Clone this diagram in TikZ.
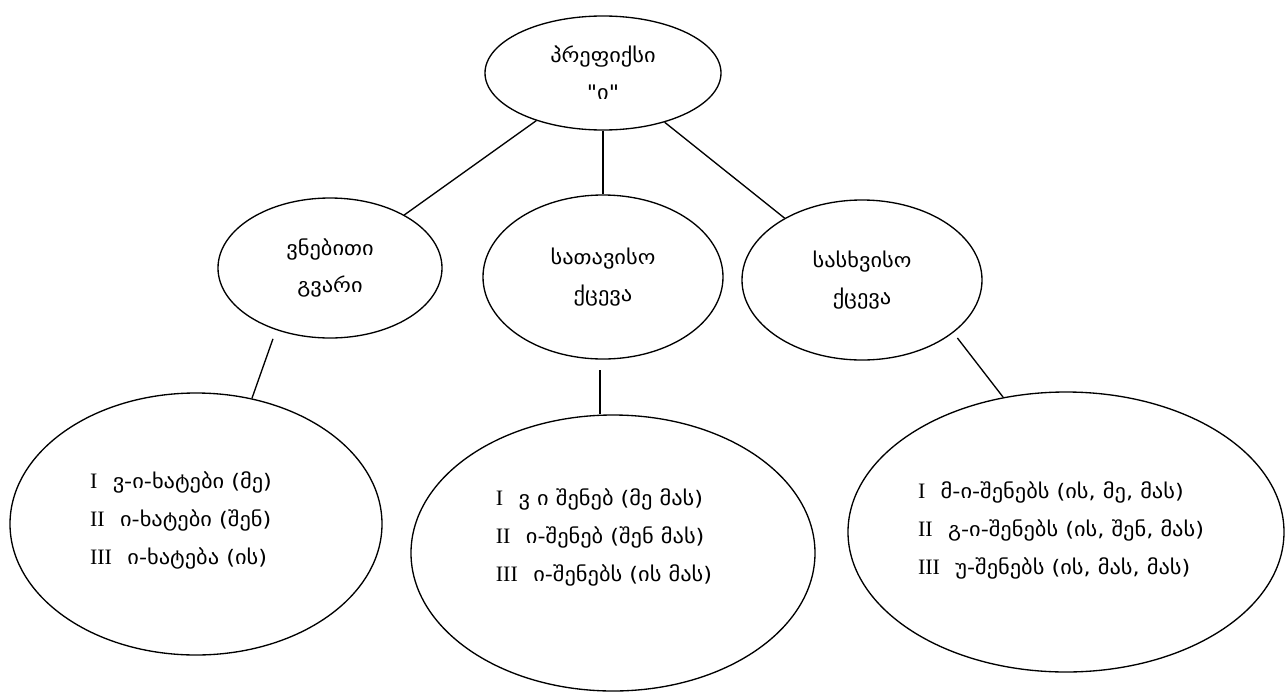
\documentclass[tikz,border=0pt]{standalone}
\usepackage{fontspec}
\setmainfont{Liberation Serif}
\newfontfamily\geo[FakeStretch=1.12]{DejaVu Sans}
\usetikzlibrary{shapes.geometric}
\newcommand\ka[1]{{\geo\fontsize{15}{28.5}\selectfont #1}}
\tikzset{oval/.style={draw, ellipse, inner sep=0pt}}
\tikzstyle{txt}=[align=center, font=\geo\fontsize{15}{28}\selectfont]
\tikzstyle{list}=[align=left, font=\fontsize{16.5}{28.5}\selectfont]

\begin{document}
\begin{tikzpicture}[x=0.75pt, y=-0.75pt, line width=1pt]
\useasboundingbox (0,0) rectangle (1286,693);
\node[oval, txt, minimum width=177pt, minimum height=85.5pt] (pref) at (603,73) {პრეფიქსი\\"ი"};
\node[oval, txt, minimum width=168pt, minimum height=105pt] (vneb) at (330,268) {ვნებითი\\გვარი};
\node[oval, txt, minimum width=180pt, minimum height=123pt] (satav) at (603,277) {სათავისო\\ქცევა};
\node[oval, txt, minimum width=180pt, minimum height=120pt] (saskh) at (862,280) {სასხვისო\\ქცევა};

\node[oval, minimum width=279pt, minimum height=196.5pt] (vform) at (196,524) {};
\node[oval, minimum width=303pt, minimum height=207pt] (sform) at (613,553) {};
\node[oval, minimum width=327pt, minimum height=210pt] (sxform) at (1066,532) {};

\node[list] (vformtxt) at (181,520) {I\hspace{0.7em}\ka{ვ-ი-ხატები (მე)}\\II\hspace{0.7em}\ka{ი-ხატები (შენ)}\\III\hspace{0.7em}\ka{ი-ხატება (ის)}};
\node[list] (sformtxt) at (604,537) {I\hspace{0.7em}\ka{ვ ი შენებ (მე მას)}\\II\hspace{0.7em}\ka{ი-შენებ (შენ მას)}\\III\hspace{0.7em}\ka{ი-შენებს (ის მას)}};
\node[list] (sxformtxt) at (1061,530) {I\hspace{0.7em}\ka{მ-ი-შენებს (ის, მე, მას)}\\II\hspace{0.7em}\ka{გ-ი-შენებს (ის, შენ, მას)}\\III\hspace{0.7em}\ka{უ-შენებს (ის, მას, მას)}};

\draw (pref) -- (vneb);
\draw (pref) -- (satav);
\draw (pref) -- (saskh);
\draw[shorten <=7pt] (vneb.229) -- (vform.66);
\draw[shorten <=8pt] (satav.268) -- (satav.268 |- sform.north);
\draw[shorten <=5pt] (saskh.330) -- (sxform.115);
\end{tikzpicture}
\end{document}
